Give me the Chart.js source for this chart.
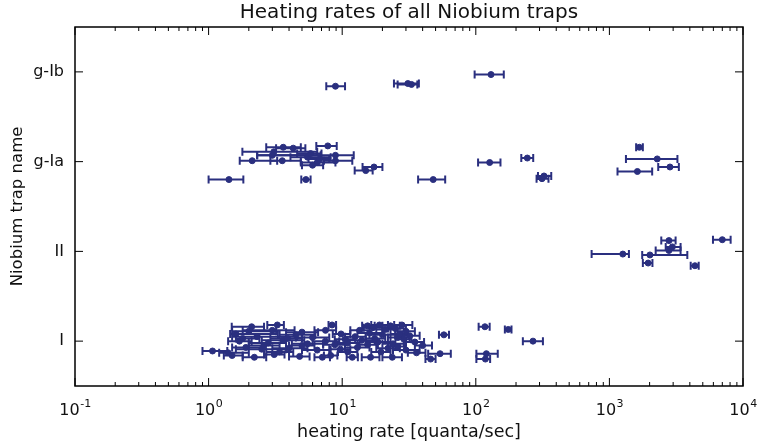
<!DOCTYPE html>
<html>
<head>
<meta charset="utf-8">
<script src="https://cdn.jsdelivr.net/npm/chart.js@4.4.1/dist/chart.umd.min.js"></script>
<style>
  html, body { margin:0; padding:0; background:#fff; }
  #wrap { width:759px; height:446px; }
</style>
</head>
<body>
<div id="wrap"><canvas id="heatChart"></canvas></div>
<script>
/* DATA : [rate, errLow, errHigh, yPosition] */

const trapNames = ["I", "II", "g-Ia", "g-Ib"];

const xTickExps = ["-1", "0", "1", "2", "3", "4"];

const trapI = [
  [2.1, 1.49, 2.6, 1.16],
  [3.27, 2.75, 3.66, 1.18],
  [8.4, 7.9, 9.0, 1.18],
  [15.5, 14.1, 17.5, 1.17],
  [19, 16.5, 22, 1.18],
  [23, 20, 27, 1.17],
  [28, 24.5, 33.5, 1.18],
  [17, 14.5, 20, 1.15],
  [25, 22, 30, 1.14],
  [117, 105, 127, 1.16],
  [175, 165, 185, 1.13],
  [1.6, 1.45, 3.3, 1.08],
  [2.3, 1.5, 4.6, 1.05],
  [4.5, 3.4, 6.3, 1.07],
  [6.0, 4.5, 8.0, 1.04],
  [9.8, 8.5, 11.5, 1.08],
  [12.5, 10.5, 15, 1.05],
  [20, 16, 25, 1.07],
  [26, 22, 32, 1.04],
  [32, 28, 38, 1.06],
  [57.7, 53, 63, 1.07],
  [268, 225, 318, 1.0],
  [1.7, 1.4, 2.1, 1.0],
  [2.8, 2.0, 3.8, 0.98],
  [3.6, 2.5, 5.2, 1.01],
  [5.5, 4.2, 7.2, 0.97],
  [7.5, 6.0, 9.5, 1.0],
  [11, 9, 13.5, 0.98],
  [14, 11, 17.5, 1.01],
  [18.5, 15, 23, 0.99],
  [24, 20, 29, 0.97],
  [35, 30, 41, 0.99],
  [40, 35, 47, 0.95],
  [1.07, 0.90, 1.38, 0.89],
  [1.9, 1.5, 2.5, 0.93],
  [2.5, 1.6, 3.8, 0.91],
  [4.0, 3.0, 5.5, 0.92],
  [6.5, 5.0, 8.2, 0.90],
  [9.7, 8.0, 11.5, 0.91],
  [13, 10.5, 16, 0.93],
  [22, 18, 27, 0.92],
  [30, 24, 38, 0.90],
  [54, 44, 65, 0.86],
  [120, 101, 146, 0.86],
  [1.5, 1.3, 1.8, 0.84],
  [2.2, 1.8, 2.7, 0.82],
  [3.1, 2.6, 3.7, 0.85],
  [4.8, 4.0, 5.7, 0.83],
  [7.1, 6.2, 8.1, 0.82],
  [8.2, 7.3, 9.2, 0.84],
  [11.9, 10.8, 13.1, 0.82],
  [16.3, 14, 19, 0.82],
  [23.7, 20, 28, 0.82],
  [45.9, 42, 50, 0.80],
  [118, 101, 128, 0.80],
  [2.0, 1.5, 3.2, 1.11],
  [3.0, 1.8, 4.4, 1.12],
  [5.0, 3.8, 6.6, 1.10],
  [7.5, 6.2, 9.0, 1.12],
  [13.5, 11.5, 16, 1.12],
  [21, 18, 25, 1.13],
  [30, 26, 35, 1.11],
  [16, 13, 20, 1.09],
  [27, 23, 31, 1.08],
  [1.8, 1.6, 2.4, 1.03],
  [3.9, 2.9, 5.0, 1.03],
  [10.5, 8.8, 12.5, 1.02],
  [17.5, 15, 21, 1.03],
  [29, 25, 33, 1.02],
  [2.6, 2.0, 3.4, 0.95],
  [5.0, 4.0, 6.2, 0.95],
  [8.8, 7.2, 10.5, 0.96],
  [15.5, 13, 18.5, 0.96],
  [26, 22, 30, 0.94],
  [1.4, 1.2, 2.0, 0.87],
  [3.4, 2.7, 4.3, 0.88],
  [11, 9.3, 13, 0.88],
  [19.5, 16.5, 23, 0.88],
  [36, 31, 42, 0.87]
];

const trapII = [
  [2790, 2445, 3130, 2.12],
  [7000, 5960, 8080, 2.13],
  [1260, 736, 1400, 1.97],
  [2010, 1760, 3830, 1.96],
  [2790, 2220, 3410, 2.01],
  [2960, 2640, 3410, 2.05],
  [1950, 1780, 2100, 1.87],
  [4370, 4060, 4660, 1.84]
];

const trapGIa = [
  [1.42, 1.0, 1.82, 2.80],
  [5.35, 4.94, 5.8, 2.80],
  [7.8, 6.4, 9.1, 3.175],
  [3.62, 2.7, 4.9, 3.16],
  [4.3, 3.2, 5.3, 3.15],
  [3.08, 1.79, 6.5, 3.11],
  [3.0, 2.31, 6.9, 3.07],
  [5.5, 4.1, 8.2, 3.05],
  [8.9, 2.31, 12.2, 3.07],
  [2.12, 1.71, 3.26, 3.01],
  [3.56, 2.9, 4.9, 3.01],
  [8.9, 7.3, 11.9, 3.01],
  [6.5, 4.9, 8.9, 2.99],
  [6.0, 5.0, 7.2, 2.96],
  [5.8, 4.6, 7.0, 3.09],
  [6.8, 5.6, 8.0, 3.03],
  [15.0, 12.4, 16.9, 2.90],
  [17.3, 14.2, 20, 2.94],
  [48, 37, 59, 2.80],
  [127, 104, 153, 2.99],
  [243, 219, 269, 3.04],
  [324, 292, 367, 2.84],
  [313, 285, 350, 2.81],
  [1675, 1585, 1780, 3.16],
  [2280, 1330, 3230, 3.03],
  [1620, 1150, 2090, 2.89],
  [2840, 2320, 3310, 2.94]
];

const trapGIb = [
  [8.9, 7.6, 10.5, 3.84],
  [31, 24.4, 37.5, 3.87],
  [33, 26, 36.5, 3.86],
  [130, 98, 162, 3.97]
];

/* WARNA */

const markColor = "#2a2f7f";
const fontName = "DejaVu Sans";

function toPoints(rows){
  return rows.map(r => ({
    x: r[0],
    y: r[3],
    xMin: r[1],
    xMax: r[2]
  }));
}

const allRows =
  [trapI, trapII, trapGIa, trapGIb];

/* ERROR BAR PLUGIN */

const errorBars = {
  id: "errorBars",
  beforeDatasetsDraw(chart){
    const c = chart.ctx;
    const xs = chart.scales.x;
    const ys = chart.scales.y;
    c.save();
    c.strokeStyle = markColor;
    c.lineWidth = 2;
    chart.data.datasets.forEach(ds => {
      ds.data.forEach(p => {
        const y = ys.getPixelForValue(p.y);
        const x1 = xs.getPixelForValue(p.xMin);
        const x2 = xs.getPixelForValue(p.xMax);
        c.beginPath();
        c.moveTo(x1, y);
        c.lineTo(x2, y);
        c.moveTo(x1, y - 4);
        c.lineTo(x1, y + 4);
        c.moveTo(x2, y - 4);
        c.lineTo(x2, y + 4);
        c.stroke();
      });
    });
    c.restore();
  }
};

/* FRAME + TICKS (ke dalam) + label 10^n */

const frameTicks = {
  id: "frameTicks",
  afterDraw(chart){
    const c = chart.ctx;
    const a = chart.chartArea;
    const xs = chart.scales.x;
    const ys = chart.scales.y;
    c.save();
    c.strokeStyle = "#000";
    c.lineWidth = 1.5;
    c.strokeRect(a.left, a.top, a.right - a.left, a.bottom - a.top);
    c.lineWidth = 1;
    c.beginPath();
    for(let e = -1; e <= 4; e++){
      const px = xs.getPixelForValue(Math.pow(10, e));
      c.moveTo(px, a.bottom); c.lineTo(px, a.bottom - 8);
      c.moveTo(px, a.top); c.lineTo(px, a.top + 8);
      if(e < 4){
        for(let m = 2; m <= 9; m++){
          const pm = xs.getPixelForValue(m * Math.pow(10, e));
          c.moveTo(pm, a.bottom); c.lineTo(pm, a.bottom - 4);
          c.moveTo(pm, a.top); c.lineTo(pm, a.top + 4);
        }
      }
    }
    for(let v = 1; v <= 4; v++){
      const py = ys.getPixelForValue(v);
      c.moveTo(a.left, py); c.lineTo(a.left + 8, py);
      c.moveTo(a.right, py); c.lineTo(a.right - 8, py);
    }
    c.stroke();

    // label sumbu x : 10 dengan pangkat kecil
    c.fillStyle = "#111";
    c.textBaseline = "alphabetic";
    xTickExps.forEach((ex, i) => {
      const px = xs.getPixelForValue(Math.pow(10, i - 1));
      c.font = "16px " + fontName;
      const wb = c.measureText("10").width;
      c.font = "11px " + fontName;
      const we = c.measureText(ex).width;
      const x0 = px - (wb + we) / 2;
      c.font = "16px " + fontName;
      c.textAlign = "left";
      c.fillText("10", x0, a.bottom + 29);
      c.font = "11px " + fontName;
      c.fillText(ex, x0 + wb + 0.5, a.bottom + 21);
    });
    c.restore();
  }
};

/* CHART */

const ctx =
  document.getElementById("heatChart");

const heatChart = new Chart(ctx, {
  type: "scatter",
  data: {
    datasets: allRows.map((rows, i) => ({
      label: trapNames[i],
      data: toPoints(rows),
      backgroundColor: markColor,
      borderColor: markColor,
      pointRadius: 3,
      pointHoverRadius: 3
    }))
  },
  options: {
    responsive: true,
    maintainAspectRatio: false,
    animation: false,
    layout: {
      padding: { left: 0, right: 16, top: 0, bottom: 0 }
    },
    plugins: {
      legend: { display: false },
      tooltip: { enabled: false },
      title: {
        display: true,
        text: "Heating rates of all Niobium traps",
        fullSize: false,
        color: "#111",
        font: { family: fontName, size: 20, weight: "normal" },
        padding: { top: 1, bottom: 2 }
      }
    },
    scales: {
      x: {
        type: "logarithmic",
        min: 0.1,
        max: 10000,
        grid: { display: false, drawTicks: false },
        border: { display: false },
        afterBuildTicks(scale){
          scale.ticks = xTickExps.map((t, i) => ({ value: Math.pow(10, i - 1) }));
        },
        afterFit(scale){
          scale.height = 60;
          scale.paddingLeft = 0;
          scale.paddingRight = 0;
        },
        ticks: {
          display: false
        },
        title: {
          display: true,
          text: "heating rate [quanta/sec]",
          color: "#111",
          font: { family: fontName, size: 17.5 },
          padding: { top: 0, bottom: 3 }
        }
      },
      y: {
        min: 0.5,
        max: 4.5,
        grid: { display: false, drawTicks: false },
        border: { display: false },
        afterBuildTicks(scale){
          scale.ticks = trapNames.map((n, i) => ({ value: i + 1 }));
        },
        afterFit(scale){
          scale.width = 75;
          scale.paddingTop = 0;
          scale.paddingBottom = 0;
        },
        ticks: {
          color: "#111",
          padding: 11,
          font: { family: fontName, size: 16 },
          callback(value){
            return trapNames[Math.round(value) - 1];
          }
        },
        title: {
          display: true,
          text: "Niobium trap name",
          color: "#111",
          font: { family: fontName, size: 16.5 },
          padding: { top: 8, bottom: 0 }
        }
      }
    }
  },
  plugins: [errorBars, frameTicks]
});
</script>
</body>
</html>
